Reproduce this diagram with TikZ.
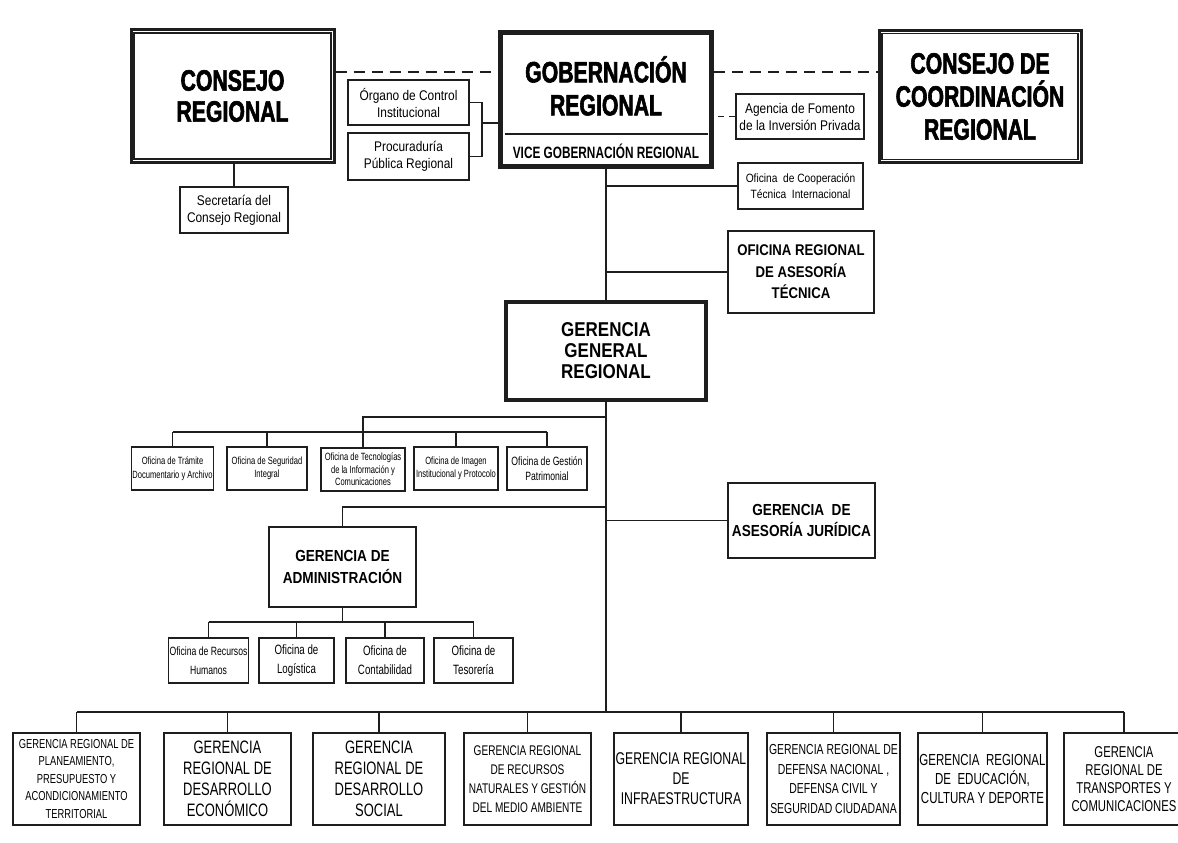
\documentclass[tikz,border=0pt]{standalone}
\usepackage{fontspec}
\setmainfont{Liberation Sans}
\newfontfamily\nrw[FakeStretch=0.85]{Liberation Sans}
\newfontfamily\cnd[FakeStretch=0.72]{Liberation Sans}
\newfontfamily\hvy[FakeStretch=0.72,BoldFeatures={FakeBold=2}]{Liberation Sans}
\definecolor{ink}{HTML}{1E1E1E}

\begin{document}
\begin{tikzpicture}[x=1pt,y=-1pt,
  box/.style={draw=ink,line width=1.6pt,fill=white,inner sep=1pt,align=center,text=black},
  bigbox/.style={draw=ink,line width=3pt,fill=white,inner sep=0pt,align=center,text=black},
  ggbox/.style={draw=ink,line width=3.6pt,fill=white,inner sep=0pt,align=center,text=black},
  wire/.style={draw=ink,line width=1.4pt},
  dashwire/.style={draw=ink,line width=2.4pt,dash pattern=on 11pt off 7pt},
  thindash/.style={draw=ink,line width=1.3pt,dash pattern=on 6pt off 5pt},
  innerline/.style={draw=ink,line width=1.2pt},
  hfont/.style={font={\hvy\bfseries\fontsize{29.5}{32}\selectfont}},
  sfont/.style={font={\nrw\fontsize{14}{17}\selectfont}},
  tiny/.style={font={\cnd\fontsize{10.5}{13.5}\selectfont}},
  admf/.style={font={\cnd\fontsize{13.5}{19}\selectfont}},
  gbox/.style={box,minimum height=92pt},
  obox/.style={box,minimum height=43pt,tiny},
  abox/.style={box,minimum height=45pt,admf}
]
% page
\fill[white] (0,0) rectangle (1178,843);
\useasboundingbox (0,0) rectangle (1178,843);

% ---------- top level ----------
\node[bigbox,minimum width=203pt,minimum height=132pt,hfont] (cr) at (232.5,96) {CONSEJO\\[-1pt]REGIONAL};
\draw[innerline] ([shift={(4.5pt,-4.5pt)}]cr.north west) rectangle ([shift={(-4.5pt,4.5pt)}]cr.south east);

\node[bigbox,line width=3.6pt,minimum width=212pt,minimum height=135pt] (gob) at (606,99.5) {};
\draw[innerline] ([shift={(4.5pt,-4.5pt)}]gob.north west) rectangle ([shift={(-4.5pt,4.5pt)}]gob.south east);
\coordinate (sepl) at (504.5,134);
\coordinate (sepr) at (707.5,134);
\draw[innerline,line width=1.6pt] (sepl) -- (sepr);
\node[hfont,text=black,align=center] (gobt) at (606,86) {GOBERNACIÓN\\[1pt]REGIONAL};
\node[font={\cnd\bfseries\fontsize{16.4}{18}\selectfont},text=black] (vice) at (606,151) {VICE GOBERNACIÓN REGIONAL};

\node[bigbox,minimum width=202pt,minimum height=132pt,hfont] (ccr) at (980,96.5) {CONSEJO DE\\[1pt]COORDINACIÓN\\[1pt]REGIONAL};
\draw[innerline] ([shift={(4.5pt,-4.5pt)}]ccr.north west) rectangle ([shift={(-4.5pt,4.5pt)}]ccr.south east);

% ---------- advisory boxes ----------
\node[box,minimum width=121pt,minimum height=45pt,sfont] (oci) at (408.5,102.5) {Órgano de Control\\Institucional};
\node[box,minimum width=121pt,minimum height=47pt,sfont] (ppr) at (408.5,156.5) {Procuraduría\\Pública Regional};
\node[box,minimum width=108pt,minimum height=46pt,sfont] (sec) at (234,210) {Secretaría del\\Consejo Regional};
\node[box,minimum width=128pt,minimum height=45pt,sfont] (afip) at (800,116.5) {Agencia de Fomento\\de la Inversión Privada};
\node[box,minimum width=125pt,minimum height=46pt,font={\nrw\fontsize{12}{16.5}\selectfont}] (octi) at (800.5,186) {Oficina~~de Cooperación\\Técnica~~Internacional};
\node[box,minimum width=146pt,minimum height=82pt,font={\nrw\bfseries\fontsize{15.5}{21.5}\selectfont}] (orat) at (801,272) {OFICINA REGIONAL\\DE ASESORÍA\\TÉCNICA};

\node[ggbox,minimum width=200pt,minimum height=98pt,font={\nrw\bfseries\fontsize{20}{21}\selectfont}] (ggr) at (606,351) {GERENCIA\\GENERAL\\REGIONAL};

\node[box,minimum width=147pt,minimum height=75pt,font={\nrw\bfseries\fontsize{16}{21}\selectfont}] (gaj) at (801.5,520.5) {GERENCIA~~DE\\ASESORÍA JURÍDICA};
\node[box,minimum width=147pt,minimum height=80pt,font={\nrw\bfseries\fontsize{16}{22}\selectfont}] (gad) at (342.5,567) {GERENCIA DE\\ADMINISTRACIÓN};

% ---------- support offices ----------
\node[obox,minimum width=81pt] (o1) at (172.5,468.5) {Oficina de Trámite\\Documentario y Archivo};
\node[obox,minimum width=80pt] (o2) at (267,468.5) {Oficina de Seguridad\\Integral};
\node[obox,minimum width=84pt,font={\cnd\fontsize{10.5}{12.5}\selectfont}] (o3) at (363,469.5) {Oficina de Tecnologías\\de la Información y\\Comunicaciones};
\node[obox,minimum width=84pt] (o4) at (456,468.5) {Oficina de Imagen\\Institucional y Protocolo};
\node[obox,minimum width=80pt,font={\cnd\fontsize{12}{15}\selectfont}] (o5) at (547,468.5) {Oficina de Gestión\\Patrimonial};

% ---------- administration offices ----------
\node[abox,minimum width=79pt,font={\cnd\fontsize{12}{19}\selectfont}] (a1) at (208.5,660.5) {Oficina de Recursos\\Humanos};
\node[abox,minimum width=75pt] (a2) at (296.5,660.5) {Oficina de\\Logística};
\node[abox,minimum width=78pt] (a3) at (385,660.5) {Oficina de\\Contabilidad};
\node[abox,minimum width=79pt] (a4) at (473.5,660.5) {Oficina de\\Tesorería};

% ---------- regional managements ----------
\node[gbox,minimum width=127pt,font={\cnd\fontsize{13}{17.5}\selectfont}] (g1) at (76.5,779) {GERENCIA REGIONAL DE\\PLANEAMIENTO,\\PRESUPUESTO Y\\ACONDICIONAMIENTO\\TERRITORIAL};
\node[gbox,minimum width=127pt,font={\cnd\fontsize{18}{21}\selectfont}] (g2) at (227.5,779) {GERENCIA\\REGIONAL DE\\DESARROLLO\\ECONÓMICO};
\node[gbox,minimum width=132pt,font={\cnd\fontsize{18}{21}\selectfont}] (g3) at (379,779) {GERENCIA\\REGIONAL DE\\DESARROLLO\\SOCIAL};
\node[gbox,minimum width=127pt,font={\cnd\fontsize{14}{19}\selectfont}] (g4) at (527.5,779) {GERENCIA REGIONAL\\DE RECURSOS\\NATURALES Y GESTIÓN\\DEL MEDIO AMBIENTE};
\node[gbox,minimum width=134pt,font={\cnd\fontsize{17}{20}\selectfont}] (g5) at (681,779) {GERENCIA REGIONAL\\DE\\INFRAESTRUCTURA};
\node[gbox,minimum width=133pt,font={\cnd\fontsize{14.5}{19.5}\selectfont}] (g6) at (833.5,779) {GERENCIA REGIONAL DE\\DEFENSA NACIONAL ,\\DEFENSA CIVIL Y\\SEGURIDAD CIUDADANA};
\node[gbox,minimum width=129pt,font={\cnd\fontsize{16}{19}\selectfont}] (g7) at (982.5,779) {GERENCIA~~REGIONAL\\DE~~EDUCACIÓN,\\CULTURA Y DEPORTE};
\node[gbox,minimum width=120pt,font={\cnd\fontsize{15.7}{18}\selectfont}] (g8) at (1124,779) {GERENCIA\\REGIONAL DE\\TRANSPORTES Y\\COMUNICACIONES};

% ---------- connectors ----------
% coordination lines
\draw[dashwire] ([yshift=24pt]cr.east) -- ([yshift=24pt]cr.east -| gob.west);
\draw[dashwire] ([yshift=27.5pt]gob.east) -- ([yshift=27.5pt]gob.east -| ccr.west);
\draw[thindash] (afip.west) -- (afip.west -| gob.east);
% council secretary
\draw[wire] (sec.north) -- (sec.north |- cr.south);
% control and legal defence bracket
\coordinate (bj) at (482,123);
\draw[wire] (oci.east) -| (bj) |- (ppr.east);
\draw[wire] (bj) -- (bj -| gob.west);
% main trunk
\draw[wire] (gob.south) -- (ggr.north);
\draw[wire] (octi.west) -- (octi.west -| gob.south);
\draw[wire] (orat.west) -- (orat.west -| gob.south);
\coordinate (bus) at (606,712);
\draw[wire] (ggr.south) -- (bus);
% support offices
\coordinate (sj) at (363,417);
\draw[wire] (sj -| ggr.south) -- (sj) -- (o3.north);
\coordinate (sb) at (363,432);
\draw[wire] (o1.north |- sb) -- (o5.north |- sb);
\foreach \n in {o1,o2,o4,o5} \draw[wire] (\n.north) -- (\n.north |- sb);
% legal and administration
\draw[wire] (gaj.west) -- (gaj.west -| ggr.south);
\coordinate (aj) at (342.5,507);
\draw[wire] (aj -| ggr.south) -- (aj) -- (gad.north);
\coordinate (ab) at (342.5,622);
\draw[wire] (gad.south) -- (ab);
\draw[wire] (a1.north |- ab) -- (a4.north |- ab);
\foreach \n in {a1,a2,a3,a4} \draw[wire] (\n.north) -- (\n.north |- ab);
% regional managements
\draw[wire] (g1.north |- bus) -- (g8.north |- bus);
\foreach \n in {g1,g2,g3,g4,g5,g6,g7,g8} \draw[wire] (\n.north) -- (\n.north |- bus);
\end{tikzpicture}
\end{document}
